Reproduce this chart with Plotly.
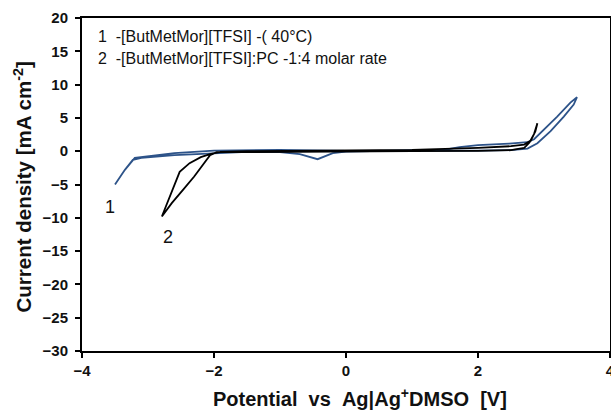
import plotly.graph_objects as go

# Curve 1: [ButMetMor][TFSI] at 40 °C (closed CV loop)
blue_x = [-3.5, -3.35, -3.23, -3.1, -2.6, -2.0, -1.5, -1.0, -0.7, -0.43, -0.2, 0.0, 0.5, 1.0, 1.5, 1.72, 2.0, 2.47, 2.75, 2.85, 3.0, 3.2, 3.4, 3.5,
          3.45, 3.3, 3.1, 2.9, 2.75, 2.5, 2.0, 1.0, 0.0, -1.0, -2.0, -2.6, -3.1, -3.2, -3.35, -3.5]
blue_y = [-5.0, -2.8, -1.3, -1.0, -0.6, -0.3, -0.1, -0.15, -0.45, -1.2, -0.3, -0.05, 0.05, 0.1, 0.25, 0.6, 0.9, 1.15, 1.35, 1.8, 3.2, 5.2, 7.3, 8.1,
          7.0, 5.2, 3.0, 1.2, 0.4, 0.15, 0.1, 0.1, 0.05, 0.2, 0.1, -0.3, -0.8, -1.0, -2.8, -5.0]

# Curve 2: [ButMetMor][TFSI]:PC 1:4 (closed CV loop)
black_x = [-2.79, -2.52, -2.37, -2.2, -2.06, -1.9, -1.5, -1.0, 0.0, 1.0, 2.0, 2.5, 2.7, 2.8, 2.87, 2.9,
           2.85, 2.78, 2.7, 2.5, 2.0, 1.0, 0.0, -1.0, -1.96, -2.06, -2.21, -2.3, -2.47, -2.64, -2.79]
black_y = [-9.8, -3.1, -1.8, -0.9, -0.45, -0.1, 0.0, 0.05, 0.1, 0.2, 0.5, 0.75, 1.0, 1.6, 3.0, 4.2,
           2.6, 1.3, 0.5, 0.15, 0.05, 0.0, -0.05, -0.05, -0.15, -0.6, -2.6, -3.8, -5.8, -7.8, -9.8]

x_ticks = [-4, -2, 0, 2, 4]
y_ticks = [20, 15, 10, 5, 0, -5, -10, -15, -20, -25, -30]

legend_lines = ["1\u00a0\u00a0-[ButMetMor][TFSI] -( 40°C)",
                "2\u00a0\u00a0-[ButMetMor][TFSI]:PC -1:4 molar rate"]
curve_labels = ["1", "2"]
curve_label_x = [-3.58, -2.7]
curve_label_y = [-8.4, -12.9]

FONT = "Liberation Sans, Arial, sans-serif"

fig = go.Figure()
fig.add_trace(go.Scatter(x=blue_x, y=blue_y, mode="lines",
                         line=dict(color="#2d5389", width=1.8), showlegend=False))
fig.add_trace(go.Scatter(x=black_x, y=black_y, mode="lines",
                         line=dict(color="#000000", width=1.8), showlegend=False))

axis_common = dict(showgrid=False, zeroline=False, showline=True, linecolor="black",
                   linewidth=2, mirror=True, ticks="outside", ticklen=5, tickwidth=2,
                   tickcolor="black", automargin=False,
                   tickfont=dict(family=FONT, size=15, color="#111", weight="bold"))

fig.update_xaxes(range=[-4, 4], tickvals=x_ticks, ticklabeloverflow="allow", **axis_common)
fig.update_yaxes(range=[-30, 20], tickvals=y_ticks, ticklabelstandoff=4, **axis_common)

annotations = []
for t, yy in zip(legend_lines, [0.943, 0.877]):
    annotations.append(dict(text=t, xref="paper", yref="paper", x=0.026, y=yy,
                            xanchor="left", yanchor="middle", showarrow=False,
                            font=dict(family=FONT, size=16, color="#111")))
for lbl, lx, ly in zip(curve_labels, curve_label_x, curve_label_y):
    annotations.append(dict(text=lbl, x=lx, y=ly, xref="x", yref="y", showarrow=False,
                            font=dict(family=FONT, size=18, color="#111")))
annotations.append(dict(text="Current density [mA cm<sup>-2</sup>]", xref="paper", yref="paper",
                        x=0, y=0.491, xshift=-59, textangle=-90, showarrow=False,
                        xanchor="center", yanchor="middle",
                        font=dict(family=FONT, size=20.5, color="#111", weight="bold")))
annotations.append(dict(text="Potential\u00a0\u00a0vs\u00a0\u00a0Ag|Ag<sup>+</sup>DMSO\u00a0\u00a0[V]",
                        xref="paper", yref="paper", x=0.527, y=0, yshift=-46,
                        showarrow=False, xanchor="center", yanchor="middle",
                        font=dict(family=FONT, size=20, color="#111", weight="bold")))

fig.update_layout(width=611, height=410, margin=dict(l=82, r=1, t=18, b=59),
                  paper_bgcolor="white", plot_bgcolor="white", annotations=annotations)

fig.write_html("out.html", config={"displayModeBar": False},
               post_script="document.body.style.margin='0';document.body.style.overflow='hidden';")
